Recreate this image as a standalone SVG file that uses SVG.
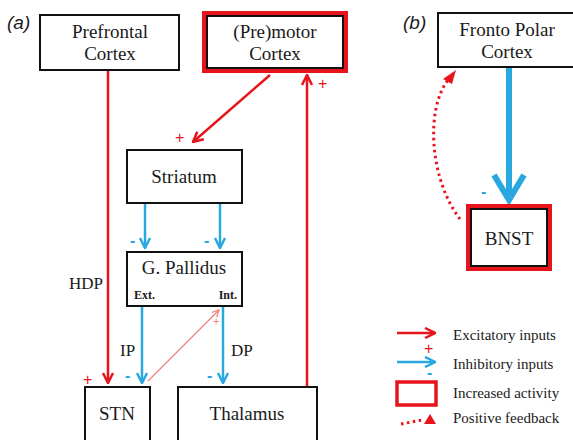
<svg xmlns="http://www.w3.org/2000/svg" width="573" height="440" viewBox="0 0 573 440">
<defs>
<style>
.box{fill:#fff;stroke:#111;stroke-width:2}
.act{fill:none;stroke:#e8141c;stroke-width:4}
.t{font-size:19px;fill:#1a1a1a;text-anchor:middle}
.s{font-size:12px;font-weight:bold;fill:#1a1a1a}
.lab{font-size:17px;fill:#1a1a1a}
.lg{font-size:15px;fill:#1a1a1a}
.pl{font-size:19px;font-style:italic;fill:#1a1a1a}
.red{stroke:#e8141c;stroke-width:2.5;fill:none}
.blue{stroke:#29a8e0;stroke-width:2.5;fill:none}
.rs{font-size:16px;fill:#e8141c}
.bs{font-size:16px;fill:#29a8e0;font-weight:bold}
</style>
<marker id="ra" viewBox="0 0 10 10" refX="9" refY="5" markerWidth="5" markerHeight="5" orient="auto" markerUnits="strokeWidth"><path d="M1,1 L9,5 L1,9" fill="none" stroke="#e8141c" stroke-width="2"/></marker>
<marker id="ba" viewBox="0 0 10 10" refX="9" refY="5" markerWidth="5" markerHeight="5" orient="auto" markerUnits="strokeWidth"><path d="M1,1 L9,5 L1,9" fill="none" stroke="#29a8e0" stroke-width="2"/></marker>
<marker id="ta" viewBox="0 0 10 10" refX="9" refY="5" markerWidth="7" markerHeight="7" orient="auto" markerUnits="strokeWidth"><path d="M1,1 L9,5 L1,9" fill="none" stroke="#f08080" stroke-width="1.5"/></marker>
</defs>
<g font-family="Liberation Sans, Arial, sans-serif">
<text class="pl" x="7" y="29">(a)</text>
<text class="pl" x="403" y="29">(b)</text>
</g>

<g id="connectors">
<line class="red" x1="108" y1="70" x2="108" y2="383" marker-end="url(#ra)"/>
<line class="red" x1="307" y1="387" x2="307" y2="75" marker-end="url(#ra)"/>
<line class="red" x1="270" y1="75" x2="193" y2="142" marker-end="url(#ra)"/>
<line class="blue" x1="145" y1="204" x2="145" y2="248" marker-end="url(#ba)"/>
<line class="blue" x1="220" y1="204" x2="220" y2="248" marker-end="url(#ba)"/>
<line class="blue" x1="142" y1="307" x2="142" y2="383" marker-end="url(#ba)"/>
<line class="blue" x1="223" y1="307" x2="223" y2="383" marker-end="url(#ba)"/>
<line x1="148" y1="381" x2="219" y2="310" stroke="#f08080" stroke-width="1.2" marker-end="url(#ta)"/>
<line x1="509" y1="67" x2="509" y2="196" stroke="#29a8e0" stroke-width="6"/>
<path d="M494,175 L509,200 L524,175" fill="none" stroke="#29a8e0" stroke-width="6" stroke-linejoin="miter"/>
<path d="M460,219 C430,180 425,110 448,80" fill="none" stroke="#e8141c" stroke-width="3" stroke-dasharray="2.5,3.5"/>
<path d="M456,70 L443,79 L452,84 Z" fill="#e8141c"/>
<g font-family="Liberation Sans, Arial, sans-serif">
<text class="rs" x="83" y="385">+</text>
<text class="rs" x="318" y="89">+</text>
<text class="rs" x="175" y="143">+</text>
<text class="bs" x="130" y="246">-</text>
<text class="bs" x="204" y="246">-</text>
<text class="bs" x="125" y="381">-</text>
<text class="bs" x="207" y="381">-</text>
<text x="213" y="325" font-size="11" fill="#f08080">+</text>
<text class="bs" x="481" y="197" font-size="18">-</text>
</g>
<g font-family="Liberation Serif, Times New Roman, serif">
<text class="lab" x="69" y="289">HDP</text>
<text class="lab" x="120" y="356">IP</text>
<text class="lab" x="231" y="356">DP</text>
</g>
</g>

<g font-family="Liberation Serif, Times New Roman, serif">
<g id="prefrontal"><rect class="box" x="40" y="15" width="139" height="55"/><text class="t" x="110" y="38">Prefrontal</text><text class="t" x="110" y="60">Cortex</text></g>
<g id="premotor"><rect class="act" x="204" y="13" width="142" height="58"/><rect class="box" x="207" y="16" width="136" height="52"/><text class="t" x="275" y="38">(Pre)motor</text><text class="t" x="275" y="60">Cortex</text></g>
<g id="striatum"><rect class="box" x="127" y="150" width="115" height="53"/><text class="t" x="184" y="183">Striatum</text></g>
<g id="pallidus"><rect class="box" x="127" y="252" width="115" height="54"/><text class="t" x="184" y="274">G. Pallidus</text><text class="s" x="134" y="299">Ext.</text><text class="s" x="237" y="299" text-anchor="end">Int.</text></g>
<g id="stn"><rect class="box" x="85" y="387" width="65" height="60"/><text class="t" x="117" y="420">STN</text></g>
<g id="thalamus"><rect class="box" x="178" y="387" width="139" height="60"/><text class="t" x="247" y="420">Thalamus</text></g>
<g id="frontopolar"><rect class="box" x="438" y="13" width="140" height="54"/><text class="t" x="507" y="36">Fronto Polar</text><text class="t" x="507" y="58">Cortex</text></g>
<g id="bnst"><rect class="act" x="468" y="206" width="82" height="63"/><rect class="box" x="471" y="209" width="76" height="57"/><text class="t" x="509" y="245">BNST</text></g>
</g>

<g id="legend" font-family="Liberation Serif, Times New Roman, serif">
<line class="red" x1="397" y1="333" x2="435" y2="333" marker-end="url(#ra)"/>
<text class="rs" x="424" y="354" font-family="Liberation Sans, Arial, sans-serif">+</text>
<text class="lg" x="453" y="340">Excitatory inputs</text>
<line class="blue" x1="397" y1="362" x2="435" y2="362" marker-end="url(#ba)"/>
<text class="bs" x="427" y="378" font-size="13" font-family="Liberation Sans, Arial, sans-serif">-</text>
<text class="lg" x="453" y="369">Inhibitory inputs</text>
<rect x="397" y="382" width="39" height="23" fill="none" stroke="#e8141c" stroke-width="3.5"/>
<text class="lg" x="453" y="398">Increased activity</text>
<path d="M401,424 L422,420" stroke="#e8141c" stroke-width="3" stroke-dasharray="2.5,3.5" fill="none"/>
<path d="M424,424 L430,414 L436,424 Z" fill="#e8141c"/>
<text class="lg" x="453" y="423">Positive feedback</text>
</g>
</svg>
